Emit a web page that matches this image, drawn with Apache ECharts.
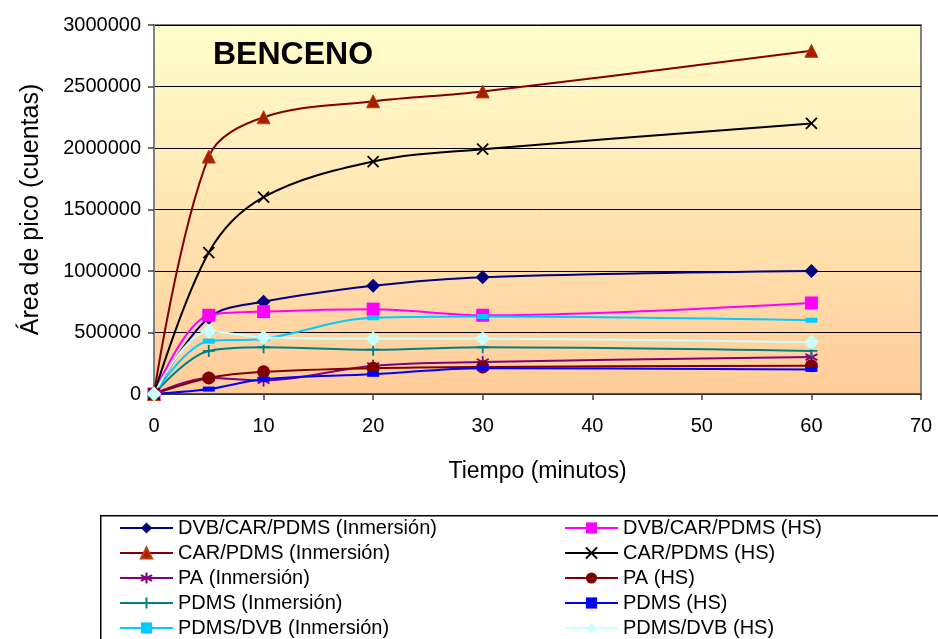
<!DOCTYPE html>
<html>
<head>
<meta charset="utf-8">
<script src="https://cdn.jsdelivr.net/npm/echarts@6/dist/echarts.min.js"></script>
<style>
html,body{margin:0;padding:0;background:#fff;}
#chart{width:938px;height:639px;}
</style>
</head>
<body>
<div id="chart"></div>
<script>
// ---- Data ----
var minutes = [0, 5, 10, 20, 30, 60];
var xTicks = [0, 10, 20, 30, 40, 50, 60, 70];
var yTicks = [0, 500000, 1000000, 1500000, 2000000, 2500000, 3000000];

var seriesNames = [
  'DVB/CAR/PDMS (Inmersión)', 'DVB/CAR/PDMS (HS)',
  'CAR/PDMS (Inmersión)', 'CAR/PDMS (HS)',
  'PA (Inmersión)', 'PA (HS)',
  'PDMS (Inmersión)', 'PDMS (HS)',
  'PDMS/DVB (Inmersión)', 'PDMS/DVB (HS)'
];
var dvbCarPdmsInm = [0, 620000, 750000, 880000, 950000, 1000000];
var dvbCarPdmsHS  = [0, 640000, 670000, 690000, 640000, 740000];
var carPdmsInm    = [0, 1930000, 2250000, 2380000, 2460000, 2790000];
var carPdmsHS     = [0, 1150000, 1600000, 1890000, 1990000, 2200000];
var paInm         = [0, 130000, 110000, 230000, 260000, 300000];
var paHS          = [0, 130000, 180000, 210000, 220000, 230000];
var pdmsInm       = [0, 350000, 380000, 360000, 380000, 350000];
var pdmsHS        = [0, 40000, 120000, 160000, 210000, 200000];
var pdmsDvbInm    = [0, 430000, 450000, 620000, 630000, 600000];
var pdmsDvbHS     = [0, 510000, 460000, 450000, 450000, 420000];

var seriesValues = [dvbCarPdmsInm, dvbCarPdmsHS, carPdmsInm, carPdmsHS, paInm, paHS, pdmsInm, pdmsHS, pdmsDvbInm, pdmsDvbHS];

// ---- Styles ----
var FONT = '"Liberation Sans", Arial, sans-serif';
var X_PATH = 'path://M0,0L10,10M10,0L0,10';
var PLUS_PATH = 'path://M5,0L5,10M0,5L10,5';
var STAR_PATH = 'path://M5,0L5,10M0.7,2.5L9.3,7.5M9.3,2.5L0.7,7.5';

var styles = [
  {line:'#000080', symbol:'diamond', size:14, fill:'#000080'},
  {line:'#FF00FF', symbol:'rect', size:13, fill:'#FF00FF'},
  {line:'#800000', symbol:'triangle', size:13, fill:'#A02000', border:'#C04010', bw:1},
  {line:'#000000', symbol:X_PATH, size:11, fill:'transparent', border:'#000000', bw:1.8},
  {line:'#800080', symbol:STAR_PATH, size:12, fill:'transparent', border:'#800080', bw:1.8},
  {line:'#800000', symbol:'circle', size:13, fill:'#800000'},
  {line:'#008080', symbol:PLUS_PATH, size:12, fill:'transparent', border:'#008080', bw:1.8},
  {line:'#0000FF', symbol:'rect', size:[12,5], fill:'#0000FF'},
  {line:'#00CCFF', symbol:'rect', size:[12,5], fill:'#00CCFF'},
  {line:'#CCFFFF', symbol:'diamond', size:15, fill:'#CCFFFF'}
];

var series = seriesNames.map(function(name, k){
  var s = styles[k];
  var it = {color: s.fill};
  if (s.border) { it.borderColor = s.border; it.borderWidth = s.bw; }
  return {
    name: name,
    type: 'line',
    smooth: 0.35,
    data: minutes.map(function(t, i){ return [t, seriesValues[k][i]]; }),
    symbol: s.symbol,
    symbolSize: s.size,
    showSymbol: true,
    lineStyle: {color: s.line, width: 2},
    itemStyle: it,
    emphasis: {disabled: true},
    animation: false
  };
});

var legendBase = {
  orient: 'vertical',
  top: 518,
  height: 121,
  padding: 0,
  itemWidth: 53,
  itemHeight: 14,
  itemGap: 5,
  textStyle: {fontFamily: FONT, fontSize: 20, color: '#000', lineHeight: 19.5},
  selectedMode: false
};

var chart = echarts.init(document.getElementById('chart'), null, {renderer: 'canvas'});
chart.setOption({
  animation: false,
  backgroundColor: '#ffffff',
  title: {
    text: 'BENCENO', left: 208, top: 34,
    textStyle: {fontFamily: FONT, fontSize: 32, fontWeight: 'bold', color: '#000'}
  },
  grid: {
    left: 154, top: 25, width: 767, height: 369,
    show: true,
    borderColor: '#808080', borderWidth: 2,
    backgroundColor: {
      type: 'linear', x: 0, y: 0, x2: 0, y2: 1,
      colorStops: [{offset: 0, color: '#FFFFCC'}, {offset: 1, color: '#FFCC99'}]
    }
  },
  xAxis: {
    type: 'value', min: xTicks[0], max: xTicks[xTicks.length-1], interval: 10,
    name: 'Tiempo (minutos)', nameLocation: 'middle', nameGap: 66,
    nameTextStyle: {fontFamily: FONT, fontSize: 23, color: '#000'},
    axisLine: {show: true, lineStyle: {color: '#404040', width: 1.5}},
    axisTick: {show: true, inside: false, length: 6, lineStyle: {color: '#404040', width: 1.5}},
    axisLabel: {fontFamily: FONT, fontSize: 20, color: '#000', margin: 22},
    splitLine: {show: false}
  },
  yAxis: {
    type: 'value', min: yTicks[0], max: yTicks[yTicks.length-1], interval: 500000,
    name: 'Área de pico (cuentas)', nameLocation: 'middle', nameGap: 110, nameRotate: 90,
    nameTextStyle: {fontFamily: FONT, fontSize: 25, color: '#000'},
    axisLine: {show: true, lineStyle: {color: '#808080', width: 2}},
    axisTick: {show: true, inside: false, length: 6, lineStyle: {color: '#404040', width: 1.5}},
    axisLabel: {fontFamily: FONT, fontSize: 20, color: '#000', margin: 13,
      formatter: function(v){ return String(v); }},
    splitLine: {show: true, lineStyle: {color: '#000', width: 1}}
  },
  legend: [
    Object.assign({}, legendBase, {left: 119, data: seriesNames.filter(function(n, i){ return i % 2 === 0; })}),
    Object.assign({}, legendBase, {left: 564, data: seriesNames.filter(function(n, i){ return i % 2 === 1; })})
  ],
  graphic: [{
    type: 'rect', left: 100, top: 515, silent: true,
    shape: {width: 900, height: 200},
    style: {fill: 'transparent', stroke: '#000', lineWidth: 1.5}
  }],
  series: series
});
</script>
</body>
</html>
